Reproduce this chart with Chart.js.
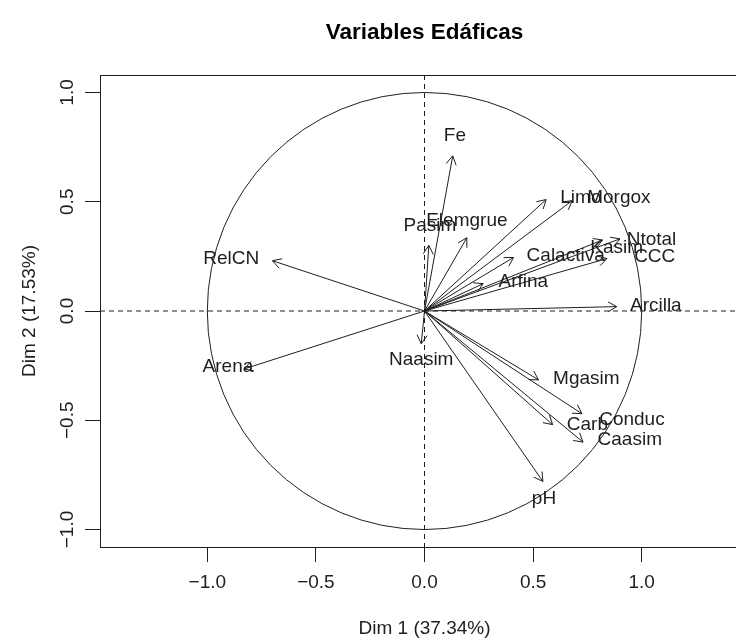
<!DOCTYPE html>
<html>
<head>
<meta charset="utf-8">
<script src="https://cdn.jsdelivr.net/npm/chart.js@4/dist/chart.umd.min.js"></script>
<style>
  html, body { margin: 0; padding: 0; background: #fff; overflow: hidden; }
  #wrap { width: 770px; height: 639px; }
</style>
</head>
<body>
<div id="wrap"><canvas id="pca" width="770" height="639"></canvas></div>
<script>
// coordenadas de las variables (Dim 1, Dim 2)
var varNames = ['Fe', 'Pasim', 'Elemgrue', 'Limo', 'Morgox', 'Calactiva', 'Arfina', 'Kasim', 'Ntotal', 'CCC',
                'Arcilla', 'RelCN', 'Arena', 'Naasim', 'Mgasim', 'Conduc', 'Carb', 'Caasim', 'pH'];
var dim1 = [0.13, 0.02, 0.195, 0.56, 0.68, 0.41, 0.27, 0.82, 0.90, 0.84,
            0.885, -0.70, -0.83, -0.015, 0.525, 0.725, 0.59, 0.73, 0.545];
var dim2 = [0.71, 0.30, 0.335, 0.51, 0.505, 0.245, 0.125, 0.325, 0.33, 0.24,
            0.02, 0.23, -0.265, -0.15, -0.315, -0.47, -0.52, -0.60, -0.78];
// posicion de las etiquetas (autoLab)
var labDim1 = [0.14, 0.025, 0.195, 0.72, 0.895, 0.65, 0.455, 0.885, 1.045, 1.06,
               1.065, -0.89, -0.905, -0.015, 0.745, 0.955, 0.75, 0.945, 0.55];
var labDim2 = [0.80, 0.39, 0.415, 0.52, 0.52, 0.255, 0.135, 0.29, 0.325, 0.25,
               0.025, 0.24, -0.255, -0.225, -0.31, -0.50, -0.52, -0.59, -0.86];
var tickValues = [-1, -0.5, 0, 0.5, 1];

var titulo = 'Variables Edáficas';
var ejeX = 'Dim 1 (37.34%)';
var ejeY = 'Dim 2 (17.53%)';

var ink = '#1e1e1e';
var FONT = '"Liberation Sans", Arial, sans-serif';

function fmtTick(v) {
  return v.toFixed(1).replace('-', '\u2212');
}

var datasets = varNames.map(function (n, i) {
  return {
    label: n,
    data: [{ x: 0, y: 0 }, { x: dim1[i], y: dim2[i] }],
    showLine: true,
    borderColor: ink,
    borderWidth: 1,
    pointRadius: 0,
    fill: false
  };
});

var pcaPlugin = {
  id: 'pcaPlugin',
  beforeDatasetsDraw: function (chart) {
    var ctx = chart.ctx, a = chart.chartArea;
    var xs = chart.scales.x, ys = chart.scales.y;
    var x0 = xs.getPixelForValue(0), y0 = ys.getPixelForValue(0);
    ctx.save();
    ctx.strokeStyle = ink;
    ctx.lineWidth = 1;
    // caja
    ctx.strokeRect(a.left + 0.5, a.top + 0.5, a.right - a.left, a.bottom - a.top);
    // ejes punteados
    ctx.setLineDash([5, 4]);
    ctx.beginPath();
    ctx.moveTo(a.left, y0); ctx.lineTo(a.right, y0);
    ctx.moveTo(x0, a.top); ctx.lineTo(x0, a.bottom);
    ctx.stroke();
    ctx.setLineDash([]);
    // circulo de correlaciones
    var rx = xs.getPixelForValue(1) - x0;
    var ry = y0 - ys.getPixelForValue(1);
    ctx.beginPath();
    ctx.ellipse(x0, y0, rx, ry, 0, 0, Math.PI * 2);
    ctx.stroke();
    ctx.restore();
  },
  afterDatasetsDraw: function (chart) {
    var ctx = chart.ctx, a = chart.chartArea;
    var xs = chart.scales.x, ys = chart.scales.y;
    var x0 = xs.getPixelForValue(0), y0 = ys.getPixelForValue(0);
    ctx.save();
    ctx.strokeStyle = ink;
    ctx.fillStyle = ink;
    ctx.lineWidth = 1;
    // puntas de flecha
    var L = 10, ang = Math.PI / 6;
    for (var i = 0; i < varNames.length; i++) {
      var px = xs.getPixelForValue(dim1[i]), py = ys.getPixelForValue(dim2[i]);
      var th = Math.atan2(py - y0, px - x0);
      ctx.beginPath();
      ctx.moveTo(px - L * Math.cos(th - ang), py - L * Math.sin(th - ang));
      ctx.lineTo(px, py);
      ctx.lineTo(px - L * Math.cos(th + ang), py - L * Math.sin(th + ang));
      ctx.stroke();
    }
    // etiquetas de variables
    ctx.font = '19px ' + FONT;
    ctx.textAlign = 'center';
    ctx.textBaseline = 'middle';
    for (var j = 0; j < varNames.length; j++) {
      ctx.fillText(varNames[j], xs.getPixelForValue(labDim1[j]), ys.getPixelForValue(labDim2[j]));
    }
    // etiquetas de marcas
    tickValues.forEach(function (v) {
      ctx.fillText(fmtTick(v), xs.getPixelForValue(v), a.bottom + 36);
      ctx.save();
      ctx.translate(a.left - 32, ys.getPixelForValue(v));
      ctx.rotate(-Math.PI / 2);
      ctx.fillText(fmtTick(v), 0, 0);
      ctx.restore();
    });
    // titulos de ejes
    var cx = (a.left + a.right) / 2;
    ctx.fillText(ejeX, cx, a.bottom + 82);
    ctx.save();
    ctx.translate(a.left - 70, (a.top + a.bottom) / 2);
    ctx.rotate(-Math.PI / 2);
    ctx.fillText(ejeY, 0, 0);
    ctx.restore();
    // titulo
    ctx.font = 'bold 22.5px ' + FONT;
    ctx.fillStyle = '#000';
    ctx.fillText(titulo, cx, 33);
    ctx.restore();
  }
};

function fixedTicks(scale) {
  scale.ticks = tickValues.map(function (v) { return { value: v }; });
}

new Chart(document.getElementById('pca'), {
  type: 'scatter',
  data: { datasets: datasets },
  options: {
    responsive: false,
    devicePixelRatio: 1,
    animation: false,
    layout: { padding: { left: 85, top: 75, right: 21, bottom: 77 } },
    plugins: { legend: { display: false }, tooltip: { enabled: false } },
    scales: {
      x: {
        type: 'linear', min: -1.494, max: 1.494,
        afterBuildTicks: fixedTicks,
        ticks: { display: false },
        border: { display: false },
        grid: { display: true, drawOnChartArea: false, drawTicks: true, tickLength: 15, color: ink, lineWidth: 1 }
      },
      y: {
        type: 'linear', min: -1.08, max: 1.08,
        afterBuildTicks: fixedTicks,
        ticks: { display: false },
        border: { display: false },
        grid: { display: true, drawOnChartArea: false, drawTicks: true, tickLength: 15, color: ink, lineWidth: 1 }
      }
    }
  },
  plugins: [pcaPlugin]
});
</script>
</body>
</html>
